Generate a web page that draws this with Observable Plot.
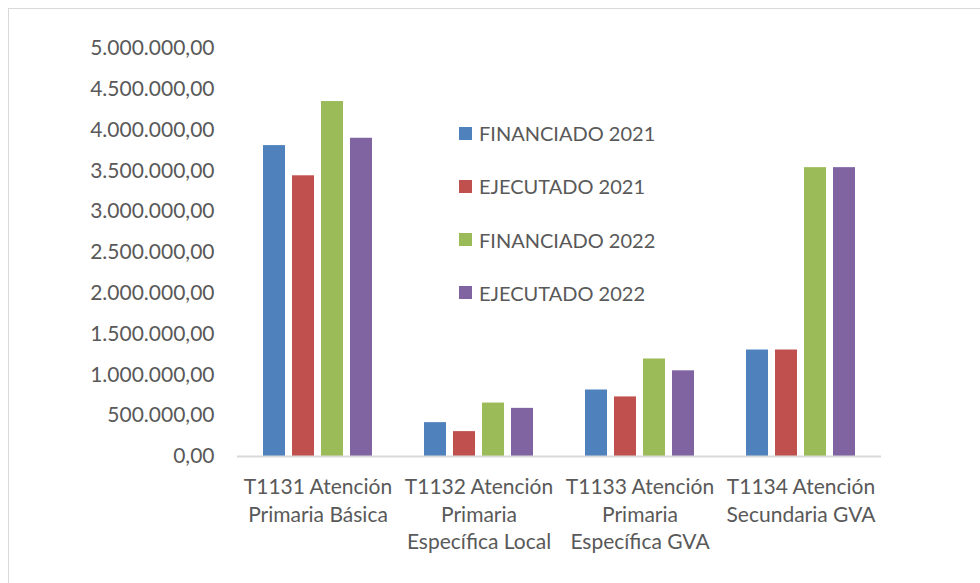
<!DOCTYPE html>
<html>
<head>
<meta charset="utf-8">
<script src="https://cdn.jsdelivr.net/npm/d3@7"></script>
<script src="https://cdn.jsdelivr.net/npm/@observablehq/plot@0.6"></script>
<style>
  html, body { margin: 0; padding: 0; background: #fff; }
  #wrap { position: relative; width: 980px; height: 583px; overflow: hidden; font-family: Lato, "Open Sans", sans-serif; background: #fff; }
  #frame { position: absolute; left: 8px; top: 8px; width: 1000px; height: 600px; border: 1.5px solid #d9d9d9; box-sizing: border-box; z-index: 5; pointer-events: none; }
  #chart { position: absolute; left: 0; top: 0; z-index: 1; }
  #legend { position: absolute; left: 459px; top: 120px; z-index: 2; }
  .row { display: flex; align-items: center; height: 26px; margin-bottom: 27.3px; color: #595959; font-size: 20px; }
  .sw { width: 13px; height: 13px; margin-right: 7px; }
</style>
</head>
<body>
<div id="wrap">
  <div id="chart"></div>
  <div id="legend"></div>
  <div id="frame"></div>
</div>
<script>
const categories = [
  "T1131 Atención\nPrimaria Básica",
  "T1132 Atención\nPrimaria\nEspecífica Local",
  "T1133 Atención\nPrimaria\nEspecífica GVA",
  "T1134 Atención\nSecundaria GVA"
];
const series = ["FINANCIADO 2021", "EJECUTADO 2021", "FINANCIADO 2022", "EJECUTADO 2022"];
const financiado2021 = [3810000, 415000, 815000, 1305000];
const ejecutado2021  = [3440000, 305000, 730000, 1305000];
const financiado2022 = [4350000, 655000, 1195000, 3540000];
const ejecutado2022  = [3900000, 590000, 1050000, 3540000];
const colors = ["#4F81BD", "#C0504D", "#9BBB59", "#8064A2"];
const yTicks = [0, 500000, 1000000, 1500000, 2000000, 2500000, 3000000, 3500000, 4000000, 4500000, 5000000];

const valuesBySeries = [financiado2021, ejecutado2021, financiado2022, ejecutado2022];
const data = [];
categories.forEach((c, i) => {
  series.forEach((s, j) => data.push({cat: c, series: s, value: valuesBySeries[j][i]}));
});

const esFormat = d3.formatLocale({decimal: ",", thousands: ".", grouping: [3], currency: ["", "€"]}).format(",.2f");

const chart = Plot.plot({
  width: 980,
  height: 583,
  marginLeft: 235,
  marginRight: 98,
  marginTop: 48,
  marginBottom: 127,
  style: {fontFamily: "Lato, 'Open Sans', sans-serif", background: "transparent"},
  fx: {domain: categories, padding: 0, label: null, axis: null},
  x: {domain: series, paddingInner: 0.24, paddingOuter: 0.85, axis: null},
  y: {domain: [0, 5000000], label: null, axis: null},
  color: {domain: series, range: colors},
  marks: [
    Plot.axisY({ticks: yTicks, tickFormat: esFormat, tickSize: 0, tickPadding: 23, fontSize: 21, fill: "#595959", label: null}),
    Plot.axisFx({anchor: "bottom", tickSize: 0, tickPadding: 18, fontSize: 21, fill: "#595959", lineHeight: 1.31, lineAnchor: "top", label: null}),
    Plot.barY(data, {fx: "cat", x: "series", y: "value", fill: "series"}),
    Plot.ruleY([0], {stroke: "#d9d9d9", strokeWidth: 2})
  ]
});
document.getElementById("chart").appendChild(chart);

const legend = document.getElementById("legend");
series.forEach((s, j) => {
  const row = document.createElement("div");
  row.className = "row";
  const sw = document.createElement("div");
  sw.className = "sw";
  sw.style.background = colors[j];
  const t = document.createElement("span");
  t.textContent = s;
  row.appendChild(sw);
  row.appendChild(t);
  legend.appendChild(row);
});
</script>
</body>
</html>
